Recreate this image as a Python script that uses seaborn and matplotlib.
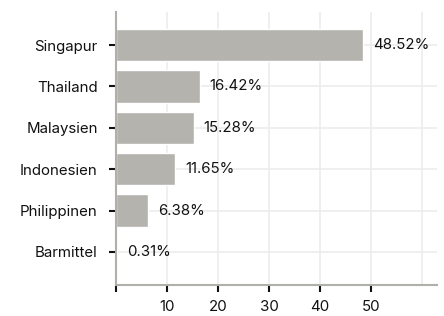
import pandas as pd
import matplotlib.pyplot as plt
import seaborn as sns

# Anteile nach Region
laender = ["Singapur", "Thailand", "Malaysien", "Indonesien", "Philippinen", "Barmittel"]
anteil = [48.52, 16.42, 15.28, 11.65, 6.38, 0.31]

df = pd.DataFrame({"Land": laender, "Anteil": anteil})

sns.set_theme(style="white")
plt.rcParams["font.family"] = ["Inter", "DejaVu Sans"]

fig, ax = plt.subplots(figsize=(4.44, 3.16), dpi=100)
fig.subplots_adjust(left=0.261, right=0.985, top=0.962, bottom=0.098)

sns.barplot(data=df, x="Anteil", y="Land", color="#b4b3ae", saturation=1,
            width=0.78, ax=ax, zorder=2)

for i, v in enumerate(anteil):
    ax.annotate(f"{v:.2f}%", (v, i), xytext=(7, 0), textcoords="offset points",
                va="center", ha="left", fontsize=10.8, color="#111111")

ax.set_xlim(0, 63)
ax.set_ylim(5.8, -0.8)
ax.set_xticks(range(0, 60, 10))
ax.set_xticklabels(["", "10", "20", "30", "40", "50"])
ax.grid(True, color="#ececec", linewidth=1.2, zorder=0)
ax.axvline(60, color="#ececec", linewidth=1.2, zorder=0)
ax.set_axisbelow(True)
ax.set_xlabel("")
ax.set_ylabel("")

for s in ["top", "right"]:
    ax.spines[s].set_visible(False)
for s in ["left", "bottom"]:
    ax.spines[s].set_color("#b0afaa")
    ax.spines[s].set_linewidth(1.5)

ax.tick_params(axis="both", which="major", length=5, width=1.5, color="#111111",
               labelsize=10.8, labelcolor="#111111", bottom=True, left=True)
ax.tick_params(axis="y", pad=8)
ax.tick_params(axis="x", pad=6)

plt.savefig("out.png", dpi=100)
